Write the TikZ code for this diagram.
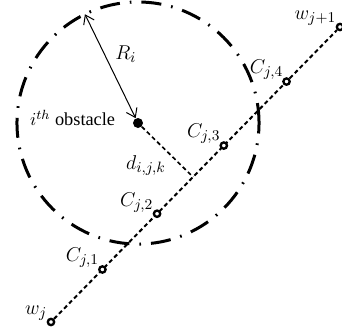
\documentclass[tikz,border=0pt]{standalone}
\usepackage{amsmath}
\usepackage{fontspec}
\setmainfont{Liberation Serif}
\usetikzlibrary{calc, arrows.meta, positioning}

\begin{document}
\begin{tikzpicture}[
    font=\fontsize{12.5}{14}\selectfont,
    wpt/.style={circle, draw, fill=white, line width=1.4pt, inner sep=0pt, minimum size=3.8pt},
    obsdot/.style={circle, fill=black, inner sep=0pt, minimum size=6pt},
    route/.style={line width=1.2pt, dash pattern=on 2.5pt off 1.8pt},
    rim/.style={line width=1.8pt, dash pattern=on 12pt off 6pt on 1pt off 6pt},
    lbl/.style={inner sep=0.5pt, label distance=-1pt}
]
    \useasboundingbox (0,0) rectangle (7.212,6.980);

    % --- Obstacle ---
    \node[obsdot] (obs) at (2.910, 4.386) {};
    \draw[rim] (obs) circle (2.552);

    % --- Waypoints ---
    \node[wpt, label={[lbl]176:$w_j$}]     (wj)  at (1.075, 0.190) {};
    \node[wpt, label={[lbl]176:$w_{j+1}$}] (wjn) at (7.170, 6.411) {};

    % --- Segment between waypoints ---
    \draw[route] (wj) -- (wjn);

    % --- Check points on the segment ---
    \node[wpt, label={[lbl]152:$C_{j,1}$}] (c1) at ($(wj)!0.178!(wjn)$) {};
    \node[wpt, label={[lbl]175:$C_{j,2}$}] (c2) at ($(wj)!0.367!(wjn)$) {};
    \node[wpt, label={[lbl]152:$C_{j,3}$}] (c3) at ($(wj)!0.598!(wjn)$) {};
    \node[wpt, label={[lbl]148:$C_{j,4}$}] (c4) at ($(wj)!0.815!(wjn)$) {};

    % --- Distance to the segment ---
    \coordinate (foot) at ($(wj)!(obs)!(wjn)$);
    \draw[route, line width=1pt] (obs) -- (foot) node[midway, below left, inner sep=1.5pt, xshift=1pt] {$d_{i,j,k}$};

    % --- Radius ---
    \coordinate (edge) at ($(obs)+(116:2.552)$);
    \draw[{Straight Barb[length=5pt, width=7pt]}-{Straight Barb[length=5pt, width=7pt]}, line width=0.6pt]
        (obs) -- (edge) node[pos=0.62, right=3pt] {$R_i$};

    % --- Obstacle label ---
    \node[left=7pt of obs, yshift=3pt, font=\fontsize{11}{13}\selectfont] (obslbl) {$i^{th}$ obstacle};

\end{tikzpicture}
\end{document}
